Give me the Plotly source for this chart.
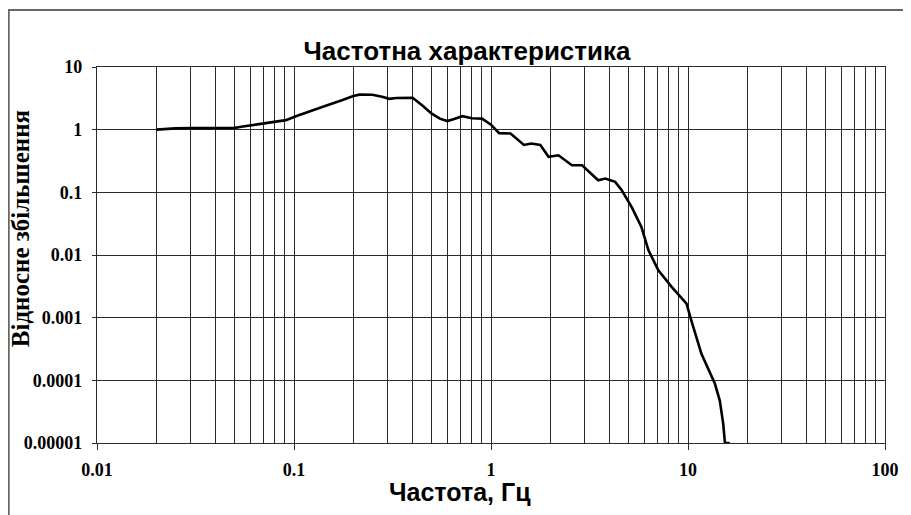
import plotly.graph_objects as go

# Data
freq = [0.020, 0.025, 0.030, 0.040, 0.050, 0.055, 0.067, 0.080, 0.091, 0.103,
        0.115, 0.130, 0.150, 0.175, 0.200, 0.215, 0.250, 0.280, 0.305, 0.330,
        0.400, 0.450, 0.500, 0.550, 0.600, 0.650, 0.715, 0.800, 0.900, 1.000,
        1.100, 1.256, 1.470, 1.600, 1.780, 1.960, 2.200, 2.575, 2.900, 3.500,
        3.800, 4.270, 4.610, 5.180, 5.800, 6.300, 7.070, 8.260, 9.830, 10.40,
        11.70, 13.70, 14.50, 15.10, 15.40, 16.30]
gain = [1.00, 1.05, 1.06, 1.06, 1.07, 1.12, 1.22, 1.32, 1.42, 1.65,
        1.85, 2.15, 2.50, 2.95, 3.45, 3.62, 3.60, 3.35, 3.10, 3.20,
        3.22, 2.40, 1.80, 1.50, 1.37, 1.48, 1.64, 1.52, 1.50, 1.20,
        0.88, 0.87, 0.57, 0.60, 0.57, 0.37, 0.39, 0.27, 0.27, 0.156,
        0.166, 0.147, 0.108, 0.058, 0.028, 0.0119, 0.0057, 0.0031, 0.00167, 0.00090,
        0.000265, 0.000088, 0.0000475, 0.000020, 0.00001, 0.00001]

x_ticks = [0.01, 0.1, 1, 10, 100]
x_ticktext = ["0.01", "0.1", "1", "10", "100"]
y_ticks = [0.00001, 0.0001, 0.001, 0.01, 0.1, 1, 10]
y_ticktext = ["0.00001", "0.0001", "0.001", "0.01", "0.1", "1", "10"]
x_minor = [m * d for d in [0.01, 0.1, 1, 10] for m in range(2, 10)]

title_text = "Частотна характеристика"
x_title = "Частота, Гц"
y_title = "Відносне збільшення"

GRID = "#2a2a2a"
SERIF = "Liberation Serif, Times New Roman, serif"
SANS = "Liberation Sans, Arial, sans-serif"

# page body has an 8px margin, so the figure is drawn 8px right/down
OFF = 8
W, H = 911 - OFF, 515 - OFF
# plot area in screen pixels: x 97..887, y 67..443
L, R, T, B = 97 - OFF, W - (887 - OFF), 67 - OFF, H - (443 - OFF)
pw, ph = W - L - R, H - T - B

def sx(px):
    return (px - OFF - L) / pw

def sy(py):
    return (H - B - (py - OFF)) / ph

fig = go.Figure()
fig.add_trace(go.Scatter(x=freq, y=gain, mode="lines",
                         line=dict(color="black", width=2.6), showlegend=False))

fig.update_layout(
    width=W, height=H,
    margin=dict(l=L, r=R, t=T, b=B),
    paper_bgcolor="white", plot_bgcolor="white",
    title=dict(text="<b>" + title_text + "</b>", x=sx(468), xref="paper",
               xanchor="center", y=1 - (51 - OFF) / H, yref="container", yanchor="middle",
               font=dict(family=SANS, size=26, color="black")),
    xaxis=dict(type="log", range=[-2, 2], tickvals=x_ticks, ticktext=x_ticktext,
               showgrid=True, gridcolor=GRID, gridwidth=1.3,
               showline=True, linecolor=GRID, linewidth=1.3, mirror=True,
               ticks="outside", ticklen=6, tickcolor=GRID, tickwidth=1.3,
               ticklabelstandoff=4,
               tickfont=dict(family=SERIF, size=18, color="black", weight="bold"),
               minor=dict(tickvals=x_minor, showgrid=True, gridcolor=GRID,
                          gridwidth=1.3, ticks=""),
               zeroline=False),
    yaxis=dict(type="log", range=[-5, 1], tickvals=y_ticks, ticktext=y_ticktext,
               showgrid=True, gridcolor=GRID, gridwidth=1.3,
               showline=True, linecolor=GRID, linewidth=1.3, mirror=True,
               ticks="outside", ticklen=4, tickcolor=GRID, tickwidth=1.3,
               ticklabelstandoff=6,
               tickfont=dict(family=SERIF, size=18, color="black", weight="bold"),
               zeroline=False),
    annotations=[
        dict(text="<b>" + x_title + "</b>", xref="paper", yref="paper",
             x=sx(461), y=sy(492), xanchor="center", yanchor="middle",
             showarrow=False, font=dict(family=SANS, size=25, color="black")),
        dict(text="<b>" + y_title + "</b>", xref="paper", yref="paper",
             x=sx(20), y=sy(229), xanchor="center", yanchor="middle",
             textangle=-90, showarrow=False,
             font=dict(family=SERIF, size=25, color="black")),
    ],
    shapes=[
        dict(type="line", xref="paper", yref="paper",
             x0=sx(7.5), x1=sx(930), y0=sy(10), y1=sy(10),
             line=dict(color="#666666", width=2)),
        dict(type="line", xref="paper", yref="paper",
             x0=sx(8.5), x1=sx(8.5), y0=sy(10), y1=sy(530),
             line=dict(color="#666666", width=2)),
    ],
)

fig.write_html("out.html")
